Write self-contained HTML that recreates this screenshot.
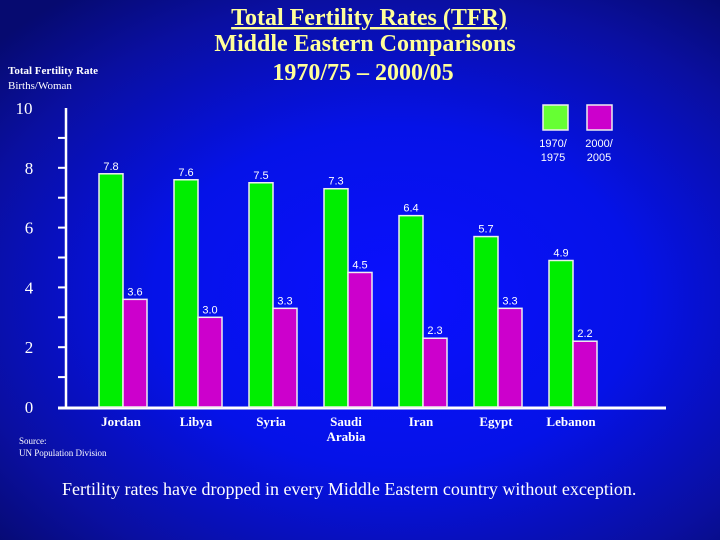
<!DOCTYPE html>
<html><head><meta charset="utf-8"><style>
body{margin:0;width:720px;height:540px;overflow:hidden;font-family:"Liberation Serif",serif;}
#bg{position:absolute;left:0;top:0;width:720px;height:540px;background:radial-gradient(ellipse 75% 70% at 55% 55%,#0a10ff 0%,#0512e8 45%,#0a0fa0 80%,#060a70 100%);}
svg{position:absolute;left:0;top:0}
</style></head><body>
<div id="bg"></div>
<svg width="720" height="540" id="chart">
<g font-family="Liberation Serif, serif" fill="#ffff99" text-anchor="middle" font-size="24" font-weight="bold">
<text x="369" y="25" text-decoration="underline">Total Fertility Rates (TFR)</text>
<text x="365" y="51">Middle Eastern Comparisons</text>
<text x="363" y="80">1970/75 – 2000/05</text>
</g>
<text x="8" y="74" fill="#fff" font-size="11" font-weight="bold" font-family="Liberation Serif, serif">Total Fertility Rate</text>
<text x="8" y="89" fill="#fff" font-size="11" font-family="Liberation Serif, serif">Births/Woman</text>
<g id="axes"></g><g id="bars"></g>
<rect x="543" y="105" width="25" height="25" fill="#66ff33" stroke="#eee" stroke-width="1.5"/>
<rect x="587" y="105" width="25" height="25" fill="#cc00cc" stroke="#eee" stroke-width="1.5"/>
<g fill="#fff" font-size="11" font-family="Liberation Sans, sans-serif" text-anchor="middle">
<text x="553" y="147"><tspan x="553">1970/</tspan><tspan x="553" dy="14">1975</tspan></text>
<text x="599" y="147"><tspan x="599">2000/</tspan><tspan x="599" dy="14">2005</tspan></text>
</g>
<text x="19" y="444" fill="#fff" font-size="9" font-family="Liberation Serif, serif"><tspan x="19">Source:</tspan><tspan x="19" dy="12">UN Population Division</tspan></text>
<text x="62" y="495" fill="#fff" font-size="18" font-family="Liberation Serif, serif">Fertility rates have dropped in every Middle Eastern country without exception.</text>
</svg>
<script>
const categories=["Jordan","Libya","Syria","Saudi Arabia","Iran","Egypt","Lebanon"];
const tfr1970=[7.8,7.6,7.5,7.3,6.4,5.7,4.9];
const tfr2000=[3.6,3.0,3.3,4.5,2.3,3.3,2.2];
const yTicks=[0,2,4,6,8,10];
const NS="http://www.w3.org/2000/svg";
const y0=407,ppu=29.9;
const y=v=>y0-v*ppu;
const gx=i=>99+i*75;
function mk(t,a,p){const e=document.createElementNS(NS,t);for(const k in a)e.setAttribute(k,a[k]);p.appendChild(e);return e;}
const ax=document.getElementById('axes'),bs=document.getElementById('bars');
const yl=mk('line',{x1:66,y1:y(10),x2:66,y2:y0+1,stroke:'#fff','stroke-width':2.5},ax);


const xl=mk('line',{x1:58,y1:y0+1,x2:666,y2:y0+1,stroke:'#fff','stroke-width':3},ax);


for(let v=1;v<10;v++){const tk=mk('line',{x1:58,y1:y(v),x2:66,y2:y(v),stroke:'#fff','stroke-width':2},ax);

}
yTicks.forEach(v=>{const t=mk('text',{x:v==10?24:29,y:y(v)+6,fill:'#fff','font-size':17,'text-anchor':'middle','font-family':'Liberation Serif, serif'},ax);t.textContent=v;

});
categories.forEach((c,i)=>{
 const x=gx(i);
 const g=mk('rect',{x:x,y:y(tfr1970[i]),width:24,height:y0-y(tfr1970[i]),fill:'#00ee00',stroke:'#eee','stroke-width':1.5},bs);
 
 
 const m=mk('rect',{x:x+24,y:y(tfr2000[i]),width:24,height:y0-y(tfr2000[i]),fill:'#cc00cc',stroke:'#eee','stroke-width':1.5},bs);
 
 
 [[tfr1970[i],x+12],[tfr2000[i],x+36]].forEach(([v,cx])=>{
  const t=mk('text',{x:cx,y:y(v)-4,fill:'#fff','font-size':11,'text-anchor':'middle','font-family':'Liberation Sans, sans-serif'},bs);t.textContent=v.toFixed(1);
  
  });
 const parts=c=="Saudi Arabia"?["Saudi","Arabia"]:[c];
 const lt=mk('text',{x:x+22,y:426,fill:'#fff','font-size':13,'font-weight':'bold','text-anchor':'middle','font-family':'Liberation Serif, serif'},bs);
 
 
 parts.forEach((p,k)=>{const s=mk('tspan',{x:x+22,dy:k?15:0},lt);s.textContent=p;});
});
</script>
</body></html>
